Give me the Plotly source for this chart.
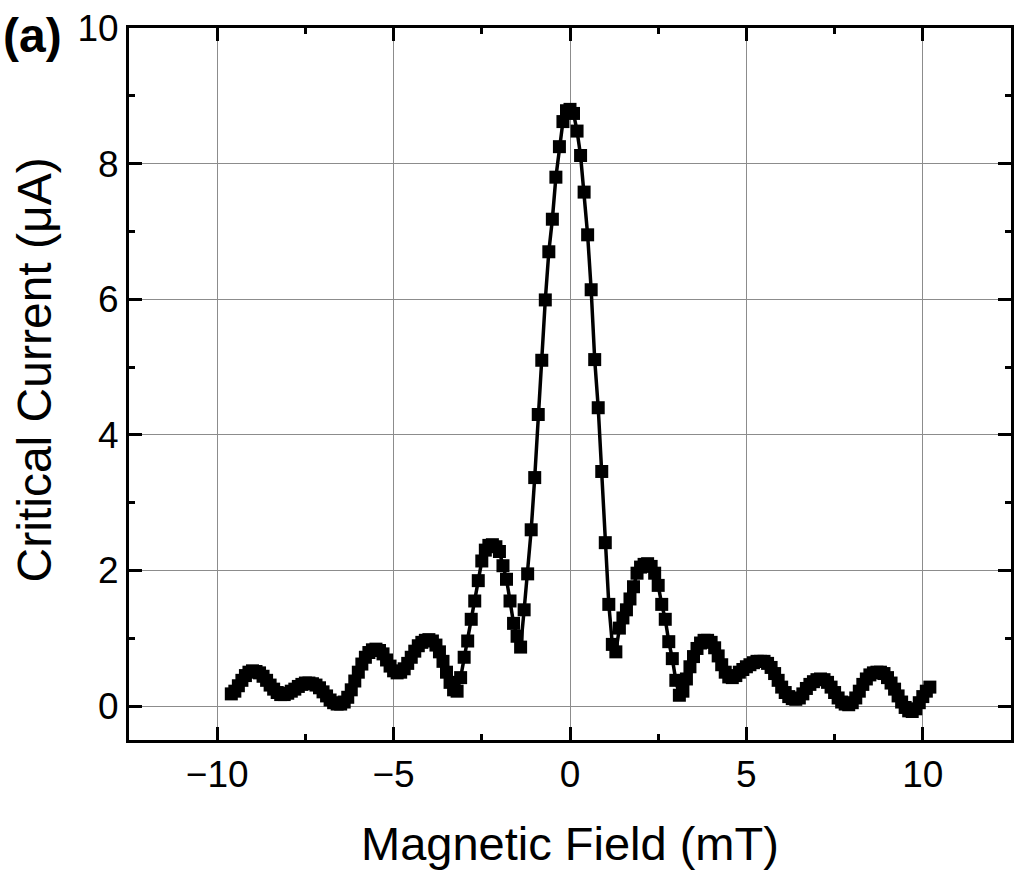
import plotly.graph_objects as go

# magnetic field (mT) and critical current (uA)
field_mT = [
    -9.6, -9.5, -9.4, -9.3, -9.2, -9.1, -9.0, -8.9, -8.8, -8.7,
    -8.6, -8.5, -8.4, -8.3, -8.2, -8.1, -8.0, -7.9, -7.8, -7.7,
    -7.6, -7.5, -7.4, -7.3, -7.2, -7.1, -7.0, -6.9, -6.8, -6.7,
    -6.6, -6.5, -6.4, -6.3, -6.2, -6.1, -6.0, -5.9, -5.8, -5.7,
    -5.6, -5.5, -5.4, -5.3, -5.2, -5.1, -5.0, -4.9, -4.8, -4.7,
    -4.6, -4.5, -4.4, -4.3, -4.2, -4.1, -4.0, -3.9, -3.8, -3.7,
    -3.6, -3.5, -3.4, -3.3, -3.2, -3.1, -3.0, -2.9, -2.8, -2.7,
    -2.6, -2.5, -2.4, -2.3, -2.2, -2.1, -2.0, -1.9, -1.8, -1.7,
    -1.6, -1.5, -1.4, -1.3, -1.2, -1.1, -1.0, -0.9, -0.8, -0.7,
    -0.6, -0.5, -0.4, -0.3, -0.2, -0.1, 0.0, 0.1, 0.2, 0.3,
    0.4, 0.5, 0.6, 0.7, 0.8, 0.9, 1.0, 1.1, 1.2, 1.3,
    1.4, 1.5, 1.6, 1.7, 1.8, 1.9, 2.0, 2.1, 2.2, 2.3,
    2.4, 2.5, 2.6, 2.7, 2.8, 2.9, 3.0, 3.1, 3.2, 3.3,
    3.4, 3.5, 3.6, 3.7, 3.8, 3.9, 4.0, 4.1, 4.2, 4.3,
    4.4, 4.5, 4.6, 4.7, 4.8, 4.9, 5.0, 5.1, 5.2, 5.3,
    5.4, 5.5, 5.6, 5.7, 5.8, 5.9, 6.0, 6.1, 6.2, 6.3,
    6.4, 6.5, 6.6, 6.7, 6.8, 6.9, 7.0, 7.1, 7.2, 7.3,
    7.4, 7.5, 7.6, 7.7, 7.8, 7.9, 8.0, 8.1, 8.2, 8.3,
    8.4, 8.5, 8.6, 8.7, 8.8, 8.9, 9.0, 9.1, 9.2, 9.3,
    9.4, 9.5, 9.6, 9.7, 9.8, 9.9, 10.0, 10.1, 10.2,
]

current_uA = [
    0.18, 0.22, 0.30, 0.38, 0.45, 0.50, 0.52, 0.51, 0.49, 0.44,
    0.38, 0.31, 0.25, 0.20, 0.17, 0.17, 0.19, 0.22, 0.25, 0.29,
    0.32, 0.34, 0.34, 0.33, 0.31, 0.27, 0.21, 0.15, 0.09, 0.05,
    0.03, 0.03, 0.06, 0.13, 0.24, 0.37, 0.50, 0.62, 0.72, 0.79,
    0.83, 0.84, 0.82, 0.77, 0.68, 0.59, 0.52, 0.49, 0.50, 0.55,
    0.63, 0.72, 0.81, 0.89, 0.94, 0.97, 0.98, 0.96, 0.90, 0.80,
    0.66, 0.50, 0.35, 0.24, 0.22, 0.42, 0.72, 0.96, 1.28, 1.55,
    1.85, 2.14, 2.30, 2.37, 2.38, 2.35, 2.28, 2.07, 1.87, 1.55,
    1.22, 1.03, 0.87, 1.42, 1.95, 2.60, 3.37, 4.30, 5.10, 5.99,
    6.70, 7.18, 7.80, 8.25, 8.62, 8.78, 8.80, 8.74, 8.48, 8.12,
    7.58, 6.95, 6.14, 5.11, 4.40, 3.46, 2.41, 1.50, 0.91, 0.80,
    1.15, 1.30, 1.42, 1.58, 1.76, 1.96, 2.05, 2.09, 2.10, 2.06,
    1.96, 1.78, 1.50, 1.28, 0.95, 0.70, 0.38, 0.16, 0.22, 0.40,
    0.58, 0.73, 0.85, 0.93, 0.97, 0.97, 0.94, 0.86, 0.74, 0.61,
    0.50, 0.43, 0.42, 0.45, 0.50, 0.54, 0.58, 0.61, 0.64, 0.66,
    0.66, 0.66, 0.63, 0.57, 0.48, 0.38, 0.28, 0.20, 0.14, 0.11,
    0.10, 0.12, 0.18, 0.26, 0.32, 0.36, 0.39, 0.40, 0.39, 0.35,
    0.28, 0.20, 0.12, 0.06, 0.03, 0.02, 0.05, 0.12, 0.22, 0.32,
    0.40, 0.46, 0.49, 0.50, 0.50, 0.48, 0.42, 0.34, 0.25, 0.15,
    0.06, -0.02, -0.07, -0.08, -0.04, 0.05, 0.14, 0.22, 0.28,
]

FONT = "Liberation Sans, Arial, sans-serif"

fig = go.Figure()
fig.add_trace(go.Scatter(
    x=field_mT, y=current_uA, mode="lines+markers",
    line=dict(color="black", width=3.5),
    marker=dict(symbol="square", size=13, color="black"),
    showlegend=False,
))

axis_common = dict(
    showline=True, linecolor="black", linewidth=3, mirror="ticks",
    ticks="inside", ticklen=13, tickwidth=3, tickcolor="black",
    showgrid=True, gridcolor="#8c8c8c", gridwidth=1, zeroline=False,
    tickfont=dict(family=FONT, size=37, color="black"),
)

fig.update_xaxes(
    range=[-12.5, 12.5], tickvals=[-10, -5, 0, 5, 10],
    ticktext=["\u221210", "\u22125", "0", "5", "10"],
    minor=dict(ticks="inside", ticklen=6, tickwidth=3, tickcolor="black",
               dtick=2.5, tick0=0, showgrid=False),
    **axis_common,
)
fig.update_yaxes(
    range=[-0.5, 10], tickvals=[0, 2, 4, 6, 8, 10],
    minor=dict(ticks="inside", ticklen=6, tickwidth=3, tickcolor="black",
               dtick=1, tick0=0, showgrid=False),
    **axis_common,
)

fig.update_layout(
    width=1015, height=870,
    margin=dict(l=129, r=1, t=28, b=130),
    plot_bgcolor="white", paper_bgcolor="white",
    font=dict(family=FONT, color="black"),
    annotations=[
        dict(text="Magnetic Field (mT)", xref="paper", yref="paper",
             x=0.5, y=-0.145, xanchor="center", yanchor="middle",
             showarrow=False, font=dict(size=47)),
        dict(text="Critical Current (\u03bcA)", xref="paper", yref="paper",
             x=-0.107, y=0.52, xanchor="center", yanchor="middle",
             textangle=-90, showarrow=False, font=dict(size=48)),
        dict(text="<b>(a)</b>", xref="paper", yref="paper",
             x=-0.109, y=0.99, xanchor="center", yanchor="middle",
             showarrow=False, font=dict(size=48)),
    ],
)

# drop the default page margin so the figure sits at the window origin
fig.write_html("out.html", config={"displayModeBar": False},
               post_script="document.body.style.margin='0';")
